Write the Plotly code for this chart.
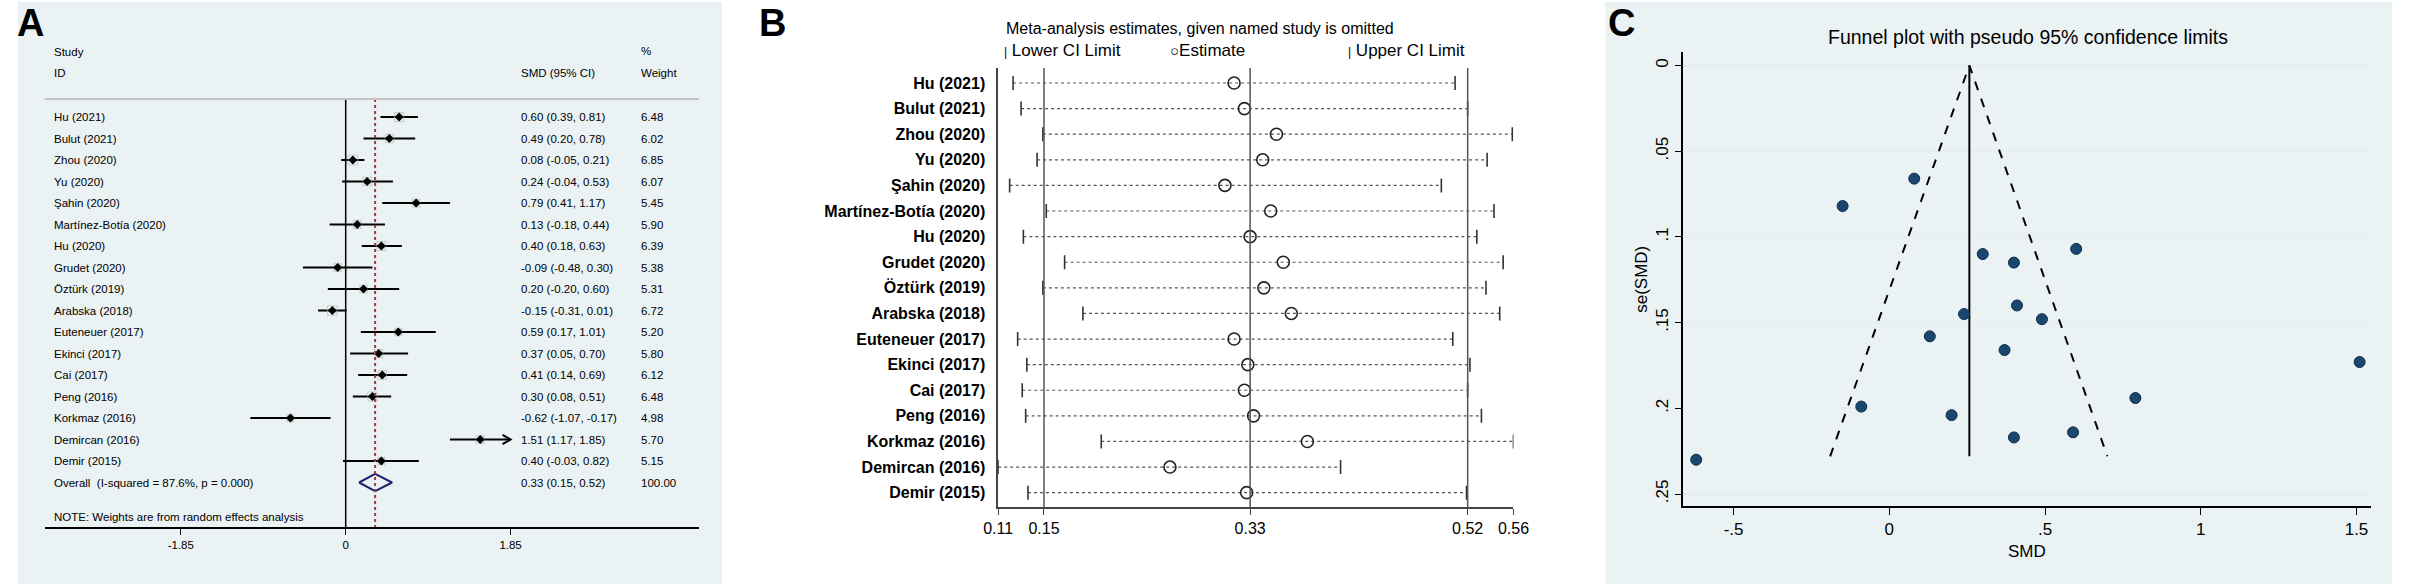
import plotly.graph_objects as go

# ================= DATA =================
studies = ["Hu (2021)", "Bulut (2021)", "Zhou (2020)", "Yu (2020)", "Şahin (2020)",
           "Martínez-Botía (2020)", "Hu (2020)", "Grudet (2020)", "Öztürk (2019)",
           "Arabska (2018)", "Euteneuer (2017)", "Ekinci (2017)", "Cai (2017)",
           "Peng (2016)", "Korkmaz (2016)", "Demircan (2016)", "Demir (2015)"]

smd = [0.60, 0.49, 0.08, 0.24, 0.79, 0.13, 0.40, -0.09, 0.20, -0.15, 0.59, 0.37, 0.41, 0.30, -0.62, 1.51, 0.40]
ci_lo = [0.39, 0.20, -0.05, -0.04, 0.41, -0.18, 0.18, -0.48, -0.20, -0.31, 0.17, 0.05, 0.14, 0.08, -1.07, 1.17, -0.03]
ci_hi = [0.81, 0.78, 0.21, 0.53, 1.17, 0.44, 0.63, 0.30, 0.60, 0.01, 1.01, 0.70, 0.69, 0.51, -0.17, 1.85, 0.82]
weight = [6.48, 6.02, 6.85, 6.07, 5.45, 5.90, 6.39, 5.38, 5.31, 6.72, 5.20, 5.80, 6.12, 6.48, 4.98, 5.70, 5.15]

overall_est, overall_lo, overall_hi = 0.33, 0.15, 0.52
overall_weight = 100.00
i_squared = 87.6
forest_ticks = [-1.85, 0, 1.85]

# leave-one-out (panel B)
loo_lo = [0.123, 0.130, 0.149, 0.144, 0.120, 0.152, 0.132, 0.168, 0.149,
          0.184, 0.127, 0.135, 0.131, 0.134, 0.200, 0.110, 0.136]
loo_est = [0.316, 0.325, 0.353, 0.341, 0.308, 0.348, 0.330, 0.359, 0.342,
           0.366, 0.316, 0.328, 0.325, 0.333, 0.380, 0.260, 0.327]
loo_hi = [0.509, 0.520, 0.559, 0.537, 0.497, 0.543, 0.528, 0.551, 0.536,
          0.548, 0.507, 0.522, 0.520, 0.532, 0.560, 0.409, 0.519]
loo_ticks = [0.11, 0.15, 0.33, 0.52, 0.56]
loo_reflines = [0.15, 0.33, 0.52]

# funnel (panel C)
se_smd = [0.107, 0.148, 0.066, 0.145, 0.194, 0.158, 0.115, 0.199, 0.204,
          0.082, 0.214, 0.166, 0.140, 0.110, 0.230, 0.173, 0.217]
funnel_center = 0.257
funnel_se_max = 0.228
funnel_lo, funnel_hi = -0.19, 0.70
funnel_xticks = [-0.5, 0, 0.5, 1, 1.5]
funnel_xtext = ["-.5", "0", ".5", "1", "1.5"]
funnel_yticks = [0, 0.05, 0.1, 0.15, 0.2, 0.25]
funnel_ytext = ["0", ".05", ".1", ".15", ".2", ".25"]

# ================= STYLE =================
W, H = 2410, 585
FONT = "Arial, Liberation Sans, sans-serif"
STATA_BG = "#EAF2F3"
NAVY = "#1A476F"


def px(x):
    return x / W


def py(y):
    return 1 - y / H


fig = go.Figure()
ann = []
shapes = []


def paper_text(x, y, text, font, xanchor="left", **kw):
    ann.append(dict(x=px(x), y=py(y), xref="paper", yref="paper", text=text, showarrow=False,
                    xanchor=xanchor, yanchor="middle", font=font, **kw))


# ================= PANEL A : forest =================
n = len(studies)
rows = list(range(n))
ov_row = n

seg_x, seg_y = [], []
for i in rows:
    seg_x += [ci_lo[i], ci_hi[i], None]
    seg_y += [i, i, None]
fig.add_trace(go.Scatter(x=seg_x, y=seg_y, mode="lines", line=dict(color="black", width=2),
                         xaxis="x", yaxis="y", hoverinfo="skip", showlegend=False))

# arrows for CIs running off the axis
for i in rows:
    if ci_hi[i] >= forest_ticks[-1]:
        fig.add_trace(go.Scatter(x=[ci_hi[i] - 0.09, ci_hi[i], ci_hi[i] - 0.09],
                                 y=[i - 0.22, i, i + 0.22], mode="lines",
                                 line=dict(color="black", width=2), xaxis="x", yaxis="y",
                                 hoverinfo="skip", showlegend=False))

fig.add_trace(go.Scatter(x=smd, y=rows, mode="markers",
                         marker=dict(symbol="square-open", size=[w * 1.4 for w in weight],
                                     color="#B8B8B8", line=dict(width=1)),
                         xaxis="x", yaxis="y", hoverinfo="skip", showlegend=False))
fig.add_trace(go.Scatter(x=smd, y=rows, mode="markers",
                         marker=dict(symbol="diamond", size=7, color="black"),
                         xaxis="x", yaxis="y", showlegend=False))

# overall diamond
fig.add_trace(go.Scatter(x=[overall_lo, overall_est, overall_hi, overall_est, overall_lo],
                         y=[ov_row, ov_row - 0.4, ov_row, ov_row + 0.4, ov_row],
                         mode="lines", line=dict(color="#1C2370", width=2),
                         xaxis="x", yaxis="y", showlegend=False))

sep_row = -0.84
axis_row = 19.07
shapes.append(dict(type="line", xref="x", yref="y", x0=0, x1=0, y0=sep_row, y1=axis_row,
                   line=dict(color="black", width=1.5)))
shapes.append(dict(type="line", xref="x", yref="y", x0=overall_est, x1=overall_est,
                   y0=sep_row, y1=axis_row, line=dict(color="#A0384A", width=2, dash="dot")))
shapes.append(dict(type="line", xref="x domain", yref="y", x0=0, x1=1, y0=sep_row, y1=sep_row,
                   line=dict(color="#C4C4C4", width=2)))

col_label, col_smd, col_w = -3.30, 1.94, 3.29
fa = dict(family=FONT, size=11.5, color="black")


def add_a(x, y, text):
    ann.append(dict(x=x, y=y, xref="x", yref="y", text=text, showarrow=False,
                    xanchor="left", yanchor="middle", font=fa))


add_a(col_label, -3.02, "Study")
add_a(col_label, -2.05, "ID")
add_a(col_w, -3.05, "%")
add_a(col_smd, -2.05, "SMD (95% CI)")
add_a(col_w, -2.05, "Weight")
for i in rows:
    add_a(col_label, i, studies[i])
    add_a(col_smd, i, f"{smd[i]:.2f} ({ci_lo[i]:.2f}, {ci_hi[i]:.2f})")
    add_a(col_w, i, f"{weight[i]:.2f}")
add_a(col_label, ov_row, f"Overall  (I-squared = {i_squared}%, p = 0.000)")
add_a(col_smd, ov_row, f"{overall_est:.2f} ({overall_lo:.2f}, {overall_hi:.2f})")
add_a(col_w, ov_row, f"{overall_weight:.2f}")
add_a(col_label, 18.6, "NOTE: Weights are from random effects analysis")

# ================= PANEL B : leave-one-out =================
b_rows = list(range(n))
dx, dy = [], []
for i in b_rows:
    dx += [loo_lo[i], loo_hi[i], None]
    dy += [i, i, None]
fig.add_trace(go.Scatter(x=dx, y=dy, mode="lines", line=dict(color="#555555", width=1.2, dash="dot"),
                         xaxis="x2", yaxis="y2", hoverinfo="skip", showlegend=False))
fig.add_trace(go.Scatter(x=loo_lo + loo_hi, y=b_rows + b_rows, mode="markers",
                         marker=dict(symbol="line-ns", size=10, line=dict(color="#333333", width=1.6)),
                         xaxis="x2", yaxis="y2", showlegend=False))
fig.add_trace(go.Scatter(x=loo_est, y=b_rows, mode="markers",
                         marker=dict(symbol="circle-open", size=12, color="#222222", line=dict(width=1.6)),
                         xaxis="x2", yaxis="y2", showlegend=False))
for v in loo_reflines:
    shapes.append(dict(type="line", xref="x2", yref="y2 domain", x0=v, x1=v, y0=0, y1=1,
                       line=dict(color="#555555", width=1.5)))

fb = dict(family=FONT, size=16, color="black")
fl = dict(family=FONT, size=17, color="black")
paper_text(1002, 28, "Meta-analysis estimates, given named study is omitted", fb)
paper_text(1000, 50, "<span style='font-size:12px'>|</span> Lower CI Limit", fl)
paper_text(1168, 50, "<span style='font-size:15px'>○</span>Estimate", fl)
paper_text(1348, 50, "<span style='font-size:12px'>|</span> Upper CI Limit", fl)

# ================= PANEL C : funnel =================
fig.add_trace(go.Scatter(x=[funnel_lo, funnel_center, funnel_hi], y=[funnel_se_max, 0, funnel_se_max],
                         mode="lines", line=dict(color="black", width=2, dash="dash"),
                         xaxis="x3", yaxis="y3", hoverinfo="skip", showlegend=False))
fig.add_trace(go.Scatter(x=[funnel_center, funnel_center], y=[0, funnel_se_max],
                         mode="lines", line=dict(color="black", width=2),
                         xaxis="x3", yaxis="y3", hoverinfo="skip", showlegend=False))
fig.add_trace(go.Scatter(x=smd, y=se_smd, mode="markers",
                         marker=dict(size=11, color=NAVY, line=dict(color="#0E2C48", width=1)),
                         xaxis="x3", yaxis="y3", showlegend=False))

fc = dict(family=FONT, size=17, color="black")
paper_text(2039, 37, "Funnel plot with pseudo 95% confidence limits",
           dict(family=FONT, size=19.5, color="black"), xanchor="center")
paper_text(1647, 279, "se(SMD)", fc, xanchor="center", textangle=-90)
paper_text(2038, 551, "SMD", fc, xanchor="center")

# ================= PANEL BACKGROUNDS + LETTERS =================
shapes.insert(0, dict(type="rect", xref="paper", yref="paper", x0=px(3), x1=px(716), y0=py(584), y1=py(2),
                      fillcolor=STATA_BG, line=dict(width=0), layer="below"))
shapes.insert(0, dict(type="rect", xref="paper", yref="paper", x0=px(1611), x1=px(2408), y0=py(584), y1=py(2),
                      fillcolor=STATA_BG, line=dict(width=0), layer="below"))
for letter, lx in [("A", 0), ("B", 752), ("C", 1612)]:
    ann.append(dict(x=px(lx), y=py(0), xref="paper", yref="paper", showarrow=False, xanchor="left",
                    yanchor="top", text=f"<b>{letter}</b>", font=dict(family=FONT, size=38, color="black")))

# ================= AXES =================
fig.update_layout(
    width=W, height=H, autosize=False,
    margin=dict(l=0, r=0, t=0, b=0),
    paper_bgcolor="white", plot_bgcolor="white",
    font=dict(family=FONT, color="black"),
    showlegend=False,
    shapes=shapes, annotations=ann,
    xaxis=dict(domain=[px(30), px(693)], range=[-3.378, 3.965], anchor="y",
               tickvals=forest_ticks, ticktext=["-1.85", "0", "1.85"], ticks="outside", ticklen=6,
               tickcolor="black", showline=True, linecolor="black", linewidth=1.5,
               showgrid=False, zeroline=False, tickfont=dict(size=11.5)),
    yaxis=dict(domain=[py(527), py(30)], range=[axis_row, -4.047], anchor="x",
               visible=False),
    xaxis2=dict(domain=[px(996), px(1518)], range=[0.11, 0.56], anchor="y2",
                tickvals=loo_ticks, ticktext=[f"{v:.2f}" for v in loo_ticks], ticks="outside", ticklen=6,
                tickcolor="#444444", showline=True, linecolor="#444444", linewidth=1.5,
                showgrid=False, zeroline=False, tickfont=dict(size=16)),
    yaxis2=dict(domain=[py(507), py(68)], range=[16.56, -0.586], anchor="x2",
                tickvals=b_rows, ticktext=[f"<b>{s}</b>" for s in studies], ticks="", ticklabelstandoff=8,
                showline=True, linecolor="#444444", linewidth=1.5,
                showgrid=False, zeroline=False, tickfont=dict(size=16)),
    xaxis3=dict(domain=[px(1690), px(2387)], range=[-0.6616, 1.5475], anchor="y3",
                tickvals=funnel_xticks, ticktext=funnel_xtext, ticks="outside", ticklen=7,
                tickcolor="black", showline=True, linecolor="black", linewidth=1.5,
                showgrid=False, zeroline=False, tickfont=dict(size=17)),
    yaxis3=dict(domain=[py(506), py(52)], range=[0.257, -0.00788], anchor="x3",
                tickvals=funnel_yticks, ticktext=funnel_ytext, tickangle=-90, ticks="outside", ticklen=7,
                tickcolor="black", showline=True, linecolor="black", linewidth=1.5,
                showgrid=True, gridcolor="#E6EEF0", gridwidth=1.5, zeroline=False,
                tickfont=dict(size=17)),
)

# body has a default 8px margin; drop it so the figure sits at the page origin
fig.write_html("out.html", config={"displayModeBar": False},
               post_script="document.body.style.margin='0';document.body.style.overflow='hidden';")
